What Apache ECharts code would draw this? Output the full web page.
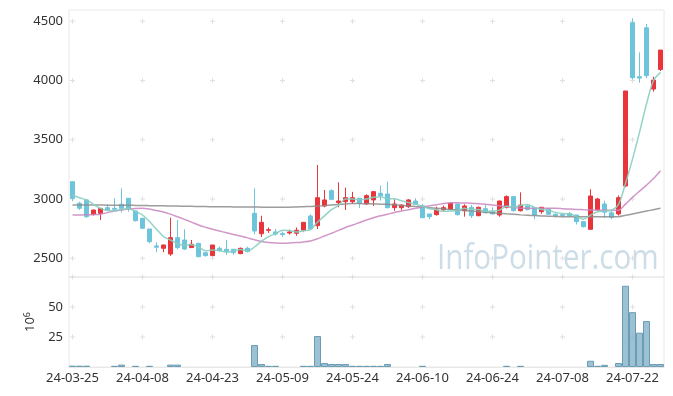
<!DOCTYPE html>
<html>
<head>
<meta charset="utf-8">
<script src="https://cdn.jsdelivr.net/npm/echarts@6/dist/echarts.min.js"></script>
<style>html,body{margin:0;padding:0;background:#fff}#c{width:673px;height:396px}</style>
</head>
<body>
<div id="c"></div>
<script>
const dates = ['24-03-25','24-03-26','24-03-27','24-03-28','24-03-29',
'24-04-01','24-04-02','24-04-03','24-04-04','24-04-05',
'24-04-08','24-04-09','24-04-11','24-04-12',
'24-04-15','24-04-16','24-04-17','24-04-18','24-04-19',
'24-04-22','24-04-23','24-04-24','24-04-25','24-04-26',
'24-04-29','24-04-30','24-05-02','24-05-03',
'24-05-07','24-05-08','24-05-09','24-05-10',
'24-05-13','24-05-14','24-05-16','24-05-17',
'24-05-20','24-05-21','24-05-22','24-05-23','24-05-24',
'24-05-27','24-05-28','24-05-29','24-05-30','24-05-31',
'24-06-03','24-06-04','24-06-05','24-06-07',
'24-06-10','24-06-11','24-06-12','24-06-13','24-06-14',
'24-06-17','24-06-18','24-06-19','24-06-20','24-06-21',
'24-06-24','24-06-25','24-06-26','24-06-27','24-06-28',
'24-07-01','24-07-02','24-07-03','24-07-04','24-07-05',
'24-07-08','24-07-09','24-07-10','24-07-11','24-07-12',
'24-07-15','24-07-16','24-07-17','24-07-18','24-07-19',
'24-07-22','24-07-23','24-07-24','24-07-25','24-07-26'];

const opens  = [3146,2964,2992,2871,2879,2927,2921,2955,3006,2899,2837,2747,2604,2584,2536,2674,2654,2590,2626,2547,2522,2584,2576,2576,2539,2584,2879,2707,2736,2722,2708,2713,2711,2736,2857,2775,2941,3070,2969,2977,2977,3006,2958,2992,3048,3042,2927,2927,2935,2983,2944,2874,2868,2910,2913,2958,2901,2930,2859,2918,2893,2865,2930,3020,2901,2941,2927,2893,2916,2871,2868,2876,2865,2809,2744,2910,2958,2884,2874,3110,4487,4031,4444,3927,4093];
const closes = [3006,2922,2851,2907,2921,2907,2913,2921,2921,2817,2753,2640,2593,2612,2674,2590,2578,2618,2513,2522,2612,2564,2556,2547,2584,2556,2730,2803,2741,2705,2700,2722,2736,2803,2747,3011,2992,2997,2983,3011,3011,2964,3028,3062,3028,2927,2958,2949,2992,2955,2842,2851,2907,2927,2964,2868,2941,2859,2930,2884,2874,2983,3020,2901,2949,2910,2865,2930,2871,2859,2859,2859,2809,2766,3025,3000,2888,2845,3011,3911,4023,4020,4040,4003,4256];
const lows   = [2983,2907,2840,2860,2823,2900,2899,2888,2893,2810,2745,2626,2551,2551,2520,2575,2570,2588,2510,2515,2518,2555,2528,2530,2535,2550,2702,2680,2714,2690,2680,2700,2690,2725,2740,2747,2930,2990,2930,2907,2958,2925,2950,2941,2986,2920,2900,2905,2925,2950,2840,2830,2860,2900,2910,2860,2851,2840,2855,2880,2870,2850,2920,2895,2895,2905,2829,2875,2865,2845,2845,2850,2785,2760,2740,2905,2840,2830,2860,3099,4009,3981,4020,3905,4080];
const highs  = [3146,2977,3000,2910,2925,2955,3006,3090,3006,2899,2840,2747,2635,2615,2842,2823,2744,2654,2626,2550,2612,2598,2654,2576,2590,2598,3090,2859,2760,2747,2725,2741,2760,2803,2870,3287,3076,3082,3141,3096,3060,3010,3040,3066,3113,3146,2997,2955,3000,3006,2958,2874,2935,2944,2968,2960,2955,2950,2935,2950,2930,2985,3030,3020,3056,2945,2930,2932,2920,2880,2870,2890,2865,2809,3082,3010,2986,2905,3030,3911,4524,4237,4476,4031,4256];

const ma5  = [3034,3010,2992,2955,2921,2902,2900,2914,2917,2896,2865,2810,2745,2683,2654,2622,2609,2614,2595,2564,2569,2566,2553,2560,2573,2561,2595,2644,2683,2707,2736,2734,2721,2733,2742,2804,2858,2910,2946,2999,2999,2993,2999,3015,3019,3002,3001,2985,2971,2956,2939,2918,2909,2896,2898,2903,2921,2912,2912,2896,2898,2906,2938,2932,2945,2953,2929,2911,2905,2887,2877,2876,2851,2830,2864,2892,2898,2905,2954,3131,3336,3562,3801,3999,4068];
const ma20 = [2865,2865,2866,2868,2872,2885,2898,2908,2915,2920,2922,2915,2903,2890,2872,2850,2828,2805,2781,2762,2745,2730,2715,2700,2688,2672,2656,2642,2634,2629,2626,2628,2632,2638,2646,2665,2688,2711,2735,2760,2780,2802,2823,2842,2858,2872,2886,2898,2910,2921,2932,2942,2952,2961,2969,2968,2966,2965,2960,2955,2950,2943,2936,2929,2922,2921,2921,2921,2921,2921,2918,2915,2912,2909,2907,2906,2905,2904,2905,2957,3014,3066,3117,3172,3238];
const ma60 = [2950,2950,2950,2949,2949,2948,2948,2947,2947,2946,2945,2944,2943,2942,2941,2940,2939,2938,2937,2936,2935,2934,2934,2933,2933,2932,2932,2931,2931,2930,2930,2931,2933,2935,2937,2940,2944,2949,2954,2958,2962,2961,2960,2958,2956,2955,2951,2946,2941,2936,2932,2927,2922,2917,2912,2908,2903,2898,2893,2888,2884,2880,2875,2871,2866,2862,2860,2857,2855,2853,2851,2851,2851,2851,2851,2851,2851,2851,2851,2862,2874,2886,2898,2910,2921];

const volume = [1.1,1.1,1.1,0,0,0,1,2,0,1,0,1,0,0,2,2,0,0,0,0,0,0,0,0,0,0,18.3,2.5,1,1,0,0,0,1,1,25.8,3.3,2.5,2.5,2.5,1,1,1,1,1,2.5,0,0,0,0,1,0,0,0,0,0,0,0,0,0,0,0,1,0,1,0,0,0,0,0,0,0,0,0,5.2,1,1.8,0,3.3,67.7,45.7,28.6,38.3,2.5,2.5];

const priceTicks = [2500,3000,3500,4000,4500];
const volTicks = [25,50,75];
const labelEvery = 10;

const FONT = 'Noto Sans';
const candleData = dates.map((d,i)=>[opens[i],closes[i],lows[i],highs[i]]);
const volData = volume.map(v=>v>0?v:'-');
const labelIdx = dates.map((d,i)=>i).filter(i=>i%labelEvery===0);
const plusPrice = [], plusVol = [];
labelIdx.forEach(i=>{ priceTicks.forEach(v=>plusPrice.push([i,v])); volTicks.forEach(v=>plusVol.push([i,v])); });
const PLUS = 'path://M2,0h1v2h2v1h-2v2h-1v-2h-2v-1h2z';

const chart = echarts.init(document.getElementById('c'));
chart.setOption({
  animation:false,
  backgroundColor:'#fff',
  graphic:[{type:'text', x:437, y:242, scaleX:0.87, z:0, silent:true,
    style:{text:'InfoPointer.com', font:'34px "Open Sans"', fill:'rgba(170,198,216,0.6)'}}],
  grid:[
    {left:69, right:9, top:10, height:267, show:true, borderColor:'#e8e8e8', borderWidth:1, backgroundColor:'transparent'},
    {left:69, right:9, top:277, height:90, show:true, borderColor:'#e8e8e8', borderWidth:1, backgroundColor:'transparent'}
  ],
  xAxis:[
    {type:'category', gridIndex:0, data:dates, boundaryGap:true, axisLine:{show:false}, axisTick:{show:false}, axisLabel:{show:false}, splitLine:{show:false}},
    {type:'category', gridIndex:1, data:dates, boundaryGap:true, axisLine:{show:true, lineStyle:{color:'#e8e8e8'}}, axisTick:{show:false},
      axisLabel:{interval:labelEvery-1, color:'#333', fontSize:13, fontFamily:FONT, margin:5}, splitLine:{show:false}}
  ],
  yAxis:[
    {type:'value', gridIndex:0, min:2342, max:4594, axisLine:{show:false}, axisTick:{show:false}, splitLine:{show:false},
      axisLabel:{customValues:priceTicks, formatter:v=>String(v), color:'#333', fontSize:13, fontFamily:FONT, margin:6}},
    {type:'value', gridIndex:1, min:0, max:75, interval:25, axisLine:{show:false}, axisTick:{show:false}, splitLine:{show:false},
      axisLabel:{color:'#333', fontSize:13, fontFamily:FONT, margin:6, formatter:v=>(v===25||v===50)?String(v):''},
      name:'10{s|6}', nameLocation:'middle', nameRotate:90, nameGap:25,
      nameTextStyle:{color:'#333', fontSize:13, fontFamily:FONT, rich:{s:{fontSize:9, fontFamily:FONT, color:'#333', verticalAlign:'top', padding:[0,0,6,0]}}}}
  ],
  series:[
    {type:'scatter', xAxisIndex:0, yAxisIndex:0, data:plusPrice, symbol:PLUS, symbolSize:5, itemStyle:{color:'#d8d8d8'}, silent:true, z:1},
    {type:'scatter', xAxisIndex:1, yAxisIndex:1, data:plusVol, symbol:PLUS, symbolSize:5, itemStyle:{color:'#d8d8d8'}, silent:true, z:1},
    {type:'candlestick', xAxisIndex:0, yAxisIndex:0, data:candleData, barWidth:'70%', z:3,
      itemStyle:{color:'#e8353c', color0:'#6ec4db', borderColor:'#e8353c', borderColor0:'#6ec4db', borderWidth:1}},
    {type:'line', xAxisIndex:0, yAxisIndex:0, data:ma60, symbol:'none', smooth:0.3, z:4, lineStyle:{color:'#8c8c8c', width:1.5, opacity:0.85}},
    {type:'line', xAxisIndex:0, yAxisIndex:0, data:ma20, symbol:'none', smooth:0.3, z:4, lineStyle:{color:'#c985c0', width:1.5, opacity:0.85}},
    {type:'line', xAxisIndex:0, yAxisIndex:0, data:ma5, symbol:'none', smooth:0.3, z:4, lineStyle:{color:'#87cfc0', width:1.5, opacity:0.9}},
    {type:'bar', xAxisIndex:1, yAxisIndex:1, data:volData, barWidth:'100%', z:3,
      itemStyle:{color:'rgba(130,178,200,0.8)', borderColor:'#6a9db5', borderWidth:1}}
  ]
});
</script>
</body>
</html>
